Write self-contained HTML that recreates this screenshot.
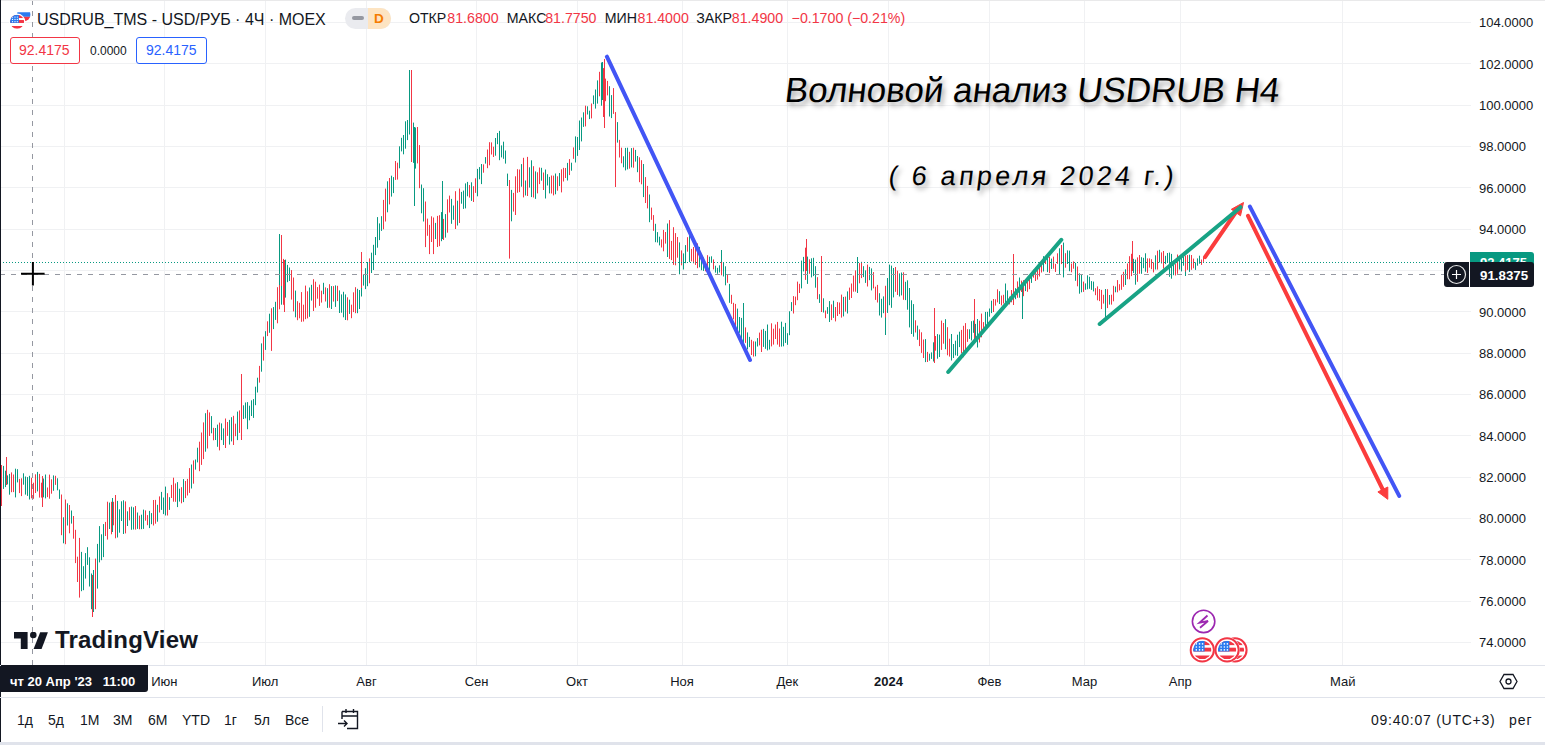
<!DOCTYPE html>
<html><head><meta charset="utf-8">
<style>
html,body{margin:0;padding:0;}
body{width:1545px;height:745px;overflow:hidden;background:#fff;position:relative;font-family:"Liberation Sans",sans-serif;color:#131722;}
.abs{position:absolute;}
svg{position:absolute;left:0;top:0;}
.pl{position:absolute;left:1479px;font-size:13px;line-height:16px;color:#131722;}
.ml{position:absolute;top:674px;width:60px;text-align:center;font-size:13px;line-height:16px;color:#131722;}
.tb{position:absolute;top:711px;font-size:14px;line-height:18px;color:#131722;}
</style></head><body>
<svg width="1545" height="745" viewBox="0 0 1545 745">
<line x1="0" y1="22.5" x2="1471" y2="22.5" stroke="#f0f1f3" stroke-width="1"/>
<line x1="0" y1="63.5" x2="1471" y2="63.5" stroke="#f0f1f3" stroke-width="1"/>
<line x1="0" y1="105.5" x2="1471" y2="105.5" stroke="#f0f1f3" stroke-width="1"/>
<line x1="0" y1="146.5" x2="1471" y2="146.5" stroke="#f0f1f3" stroke-width="1"/>
<line x1="0" y1="187.5" x2="1471" y2="187.5" stroke="#f0f1f3" stroke-width="1"/>
<line x1="0" y1="229.5" x2="1471" y2="229.5" stroke="#f0f1f3" stroke-width="1"/>
<line x1="0" y1="270.5" x2="1471" y2="270.5" stroke="#f0f1f3" stroke-width="1"/>
<line x1="0" y1="311.5" x2="1471" y2="311.5" stroke="#f0f1f3" stroke-width="1"/>
<line x1="0" y1="353.5" x2="1471" y2="353.5" stroke="#f0f1f3" stroke-width="1"/>
<line x1="0" y1="394.5" x2="1471" y2="394.5" stroke="#f0f1f3" stroke-width="1"/>
<line x1="0" y1="435.5" x2="1471" y2="435.5" stroke="#f0f1f3" stroke-width="1"/>
<line x1="0" y1="477.5" x2="1471" y2="477.5" stroke="#f0f1f3" stroke-width="1"/>
<line x1="0" y1="518.5" x2="1471" y2="518.5" stroke="#f0f1f3" stroke-width="1"/>
<line x1="0" y1="559.5" x2="1471" y2="559.5" stroke="#f0f1f3" stroke-width="1"/>
<line x1="0" y1="601.5" x2="1471" y2="601.5" stroke="#f0f1f3" stroke-width="1"/>
<line x1="0" y1="642.5" x2="1471" y2="642.5" stroke="#f0f1f3" stroke-width="1"/>
<line x1="64.5" y1="0" x2="64.5" y2="665" stroke="#f0f1f3" stroke-width="1"/>
<line x1="164.5" y1="0" x2="164.5" y2="665" stroke="#f0f1f3" stroke-width="1"/>
<line x1="265.5" y1="0" x2="265.5" y2="665" stroke="#f0f1f3" stroke-width="1"/>
<line x1="366.5" y1="0" x2="366.5" y2="665" stroke="#f0f1f3" stroke-width="1"/>
<line x1="476.5" y1="0" x2="476.5" y2="665" stroke="#f0f1f3" stroke-width="1"/>
<line x1="577.5" y1="0" x2="577.5" y2="665" stroke="#f0f1f3" stroke-width="1"/>
<line x1="682.5" y1="0" x2="682.5" y2="665" stroke="#f0f1f3" stroke-width="1"/>
<line x1="787.5" y1="0" x2="787.5" y2="665" stroke="#f0f1f3" stroke-width="1"/>
<line x1="888.5" y1="0" x2="888.5" y2="665" stroke="#f0f1f3" stroke-width="1"/>
<line x1="989.5" y1="0" x2="989.5" y2="665" stroke="#f0f1f3" stroke-width="1"/>
<line x1="1084.5" y1="0" x2="1084.5" y2="665" stroke="#f0f1f3" stroke-width="1"/>
<line x1="1180.5" y1="0" x2="1180.5" y2="665" stroke="#f0f1f3" stroke-width="1"/>
<line x1="1342.5" y1="0" x2="1342.5" y2="665" stroke="#f0f1f3" stroke-width="1"/>
<path d="M3.5 465.9V488.9M5.5 470.7V487.1M7.5 475.4V484.4M9.5 473.9V494.7M15.5 468.7V497.4M17.5 469.2V482.4M23.5 473.3V484.7M25.5 476.5V494.6M27.5 477.1V495.9M29.5 475.8V499.5M37.5 471.9V491.4M43.5 478.5V497.3M45.5 474.5V498.4M53.5 475.4V490.8M57.5 478.3V490.3M59.5 489.5V498.9M63.5 517.3V543.3M67.5 503.3V525.5M71.5 510.5V523.6M81.5 551.9V591.2M83.5 566.2V590.2M85.5 553.1V578.6M87.5 547.2V564.9M89.5 557.3V586.5M91.5 573.5V609.2M93.5 579.2V604.9M97.5 543.9V588.6M99.5 526.1V562.4M101.5 534.3V560.2M103.5 524.1V557.1M109.5 502.6V529.0M117.5 500.9V537.5M119.5 509.3V532.7M121.5 501.3V521.0M123.5 500.3V534.0M127.5 511.3V526.0M131.5 506.6V529.8M133.5 507.3V529.5M137.5 512.5V528.9M141.5 514.7V529.2M143.5 509.6V528.9M149.5 510.9V528.1M151.5 513.1V524.2M157.5 504.8V521.7M161.5 491.9V509.9M163.5 497.5V514.1M165.5 486.6V515.5M169.5 497.2V509.9M177.5 482.1V507.1M179.5 488.7V501.6M183.5 479.1V502.1M191.5 464.5V488.5M195.5 459.5V469.6M197.5 447.7V462.4M205.5 413.2V451.7M211.5 416.1V433.3M215.5 428.0V440.0M217.5 424.6V446.8M221.5 423.4V440.1M223.5 428.4V445.0M229.5 419.9V444.6M231.5 417.2V441.4M237.5 411.6V440.1M243.5 405.3V419.0M245.5 402.5V418.4M247.5 402.1V429.2M249.5 405.7V420.3M251.5 400.3V416.0M253.5 399.1V417.9M255.5 386.7V405.2M257.5 377.7V392.5M261.5 343.4V371.7M265.5 331.2V349.9M269.5 313.7V332.8M273.5 307.1V329.1M275.5 301.8V319.9M281.5 270.5V304.7M285.5 259.6V297.6M287.5 264.9V282.2M289.5 267.5V281.0M295.5 290.6V317.3M309.5 287.5V316.8M311.5 284.8V300.6M323.5 282.8V294.2M327.5 288.2V307.9M331.5 286.1V309.0M335.5 285.4V306.9M339.5 290.4V313.0M341.5 294.4V312.7M343.5 291.8V317.3M345.5 294.4V320.0M349.5 299.7V313.9M357.5 288.8V313.2M359.5 290.0V309.0M361.5 278.5V296.5M363.5 274.5V285.6M365.5 268.2V289.1M367.5 262.0V286.2M371.5 252.7V273.0M373.5 244.8V270.0M375.5 237.0V255.1M377.5 217.1V247.7M379.5 223.4V240.1M381.5 216.2V230.9M387.5 181.3V212.3M391.5 175.7V196.6M393.5 177.1V193.1M399.5 146.3V168.3M401.5 137.8V151.4M403.5 135.0V154.3M405.5 121.3V148.7M407.5 120.0V140.1M409.5 111.0V134.5M413.5 122.6V162.9M415.5 127.5V168.6M421.5 184.5V213.3M423.5 188.2V221.5M435.5 222.9V239.0M441.5 212.1V241.2M445.5 214.1V237.6M451.5 198.9V223.8M453.5 205.5V219.8M457.5 200.7V225.5M461.5 191.9V203.7M463.5 190.6V208.9M465.5 183.4V208.4M467.5 181.9V196.3M471.5 182.3V200.9M477.5 168.9V196.3M479.5 167.1V179.3M481.5 164.0V184.1M485.5 157.1V163.6M495.5 138.0V155.7M497.5 133.0V144.2M499.5 130.9V160.2M501.5 145.4V157.4M503.5 141.7V158.8M505.5 150.5V163.6M507.5 173.6V186.0M509.5 197.6V208.0M511.5 189.9V221.3M521.5 164.1V186.7M525.5 180.5V195.5M529.5 167.3V187.6M531.5 160.3V197.1M535.5 171.4V198.9M541.5 167.8V180.7M545.5 169.5V198.5M547.5 174.2V185.5M549.5 176.9V193.4M555.5 173.5V194.3M559.5 173.0V186.1M567.5 162.9V180.5M571.5 162.7V170.7M575.5 136.4V162.5M577.5 137.0V155.9M579.5 120.5V150.0M581.5 117.5V141.4M583.5 112.3V126.9M587.5 106.3V114.5M589.5 110.7V119.1M593.5 95.4V104.2M595.5 89.5V108.6M597.5 80.4V103.6M601.5 62.5V105.7M609.5 86.2V116.5M611.5 95.1V118.1M617.5 122.1V142.6M623.5 156.3V167.3M625.5 147.9V170.4M627.5 147.7V169.4M631.5 148.1V167.4M635.5 149.9V161.6M637.5 156.0V172.2M643.5 164.0V197.1M649.5 194.5V222.2M655.5 223.8V242.2M657.5 232.1V242.5M659.5 236.7V245.4M667.5 223.5V257.0M679.5 242.4V274.3M683.5 253.4V269.5M685.5 245.1V263.2M689.5 233.3V262.1M699.5 246.9V267.3M701.5 254.2V270.2M703.5 257.6V270.9M709.5 256.7V270.7M711.5 256.3V262.5M715.5 265.7V272.6M717.5 267.8V273.8M719.5 265.3V272.5M723.5 262.2V276.5M725.5 266.3V285.3M729.5 283.9V302.8M737.5 308.6V334.4M739.5 317.0V332.8M741.5 317.9V338.4M743.5 322.6V344.2M747.5 332.4V349.4M749.5 336.9V347.1M755.5 341.5V356.3M757.5 338.1V346.5M763.5 328.9V346.9M765.5 330.9V348.8M767.5 324.5V350.4M769.5 339.8V349.5M781.5 321.7V346.6M783.5 326.8V346.3M785.5 322.9V342.9M787.5 333.2V344.8M789.5 311.3V335.2M791.5 302.1V311.0M801.5 260.6V288.4M803.5 256.9V271.4M807.5 256.6V283.9M811.5 258.3V277.4M813.5 257.8V276.1M815.5 266.2V287.7M819.5 294.2V302.9M821.5 289.7V308.3M823.5 298.3V312.5M827.5 307.1V313.8M829.5 301.1V322.0M833.5 300.7V317.9M843.5 296.9V316.4M847.5 291.4V313.5M857.5 266.0V280.5M863.5 266.2V277.1M865.5 270.4V282.9M869.5 266.9V280.2M871.5 268.4V290.4M879.5 293.2V315.5M881.5 298.8V317.6M883.5 296.4V313.2M887.5 278.0V312.9M889.5 264.6V305.2M891.5 265.6V307.8M893.5 268.0V297.4M899.5 273.4V296.5M901.5 272.5V295.4M905.5 281.8V300.1M907.5 280.3V309.7M909.5 288.0V327.4M911.5 300.3V334.0M913.5 304.1V336.7M917.5 325.6V339.8M925.5 339.1V362.1M929.5 353.7V360.7M931.5 352.4V358.9M933.5 342.3V361.5M937.5 334.1V358.7M939.5 334.6V357.0M945.5 319.2V349.2M951.5 334.0V360.5M953.5 344.0V358.0M955.5 340.7V355.4M957.5 334.7V355.9M959.5 331.7V347.1M969.5 329.3V338.9M971.5 321.2V340.4M973.5 320.6V332.8M975.5 323.9V341.3M977.5 319.0V347.5M985.5 311.9V326.8M987.5 311.8V324.8M989.5 308.5V316.7M991.5 300.7V313.1M999.5 291.2V304.0M1005.5 283.5V304.9M1007.5 290.4V304.9M1015.5 288.2V299.2M1019.5 277.5V297.7M1025.5 280.3V291.1M1031.5 276.6V282.9M1043.5 256.2V271.5M1047.5 257.7V272.1M1051.5 258.6V269.0M1059.5 248.3V275.0M1063.5 242.6V277.4M1067.5 250.4V264.0M1069.5 250.6V271.2M1075.5 262.9V280.8M1079.5 273.3V293.7M1081.5 274.1V292.3M1085.5 283.4V289.8M1087.5 275.3V289.3M1089.5 276.8V288.8M1091.5 281.1V289.9M1093.5 281.6V291.4M1105.5 290.1V308.7M1109.5 295.0V304.6M1115.5 286.5V292.3M1125.5 269.3V285.0M1133.5 258.8V273.1M1135.5 259.6V284.7M1141.5 257.2V273.8M1143.5 257.8V268.2M1145.5 253.3V271.7M1155.5 255.3V269.5M1159.5 249.8V262.4M1165.5 255.8V264.1M1167.5 253.0V262.7M1169.5 252.6V276.8M1171.5 253.9V278.7M1173.5 260.5V275.2M1179.5 258.2V269.5M1181.5 254.8V271.4M1183.5 257.0V265.7M1189.5 254.7V271.9M1195.5 262.4V269.9M1197.5 258.4V265.7M1199.5 255.7V263.7M93.5 570.0V612.0M112.5 498.0V532.0M279.5 234.0V302.0M409.5 70.0V118.0M414.5 127.0V206.0M442.5 181.0V239.0M602.5 62.0V100.0M721.5 250.0V268.0M743.5 303.0V331.0M857.5 257.0V293.0M885.5 300.0V335.0M1022.5 285.0V319.0M1105.5 289.0V317.0M1185.5 262.0V276.0" stroke="#089981" stroke-width="1" fill="none"/>
<path d="M1.5 467.2V489.2M11.5 472.4V492.2M13.5 474.5V492.1M19.5 478.9V493.1M21.5 478.3V496.1M31.5 477.8V498.3M33.5 482.7V498.8M35.5 474.3V493.0M39.5 473.9V497.6M41.5 482.7V497.6M47.5 487.5V497.1M49.5 474.6V498.7M51.5 479.3V493.7M55.5 475.8V484.9M61.5 494.5V535.2M65.5 499.5V544.2M69.5 505.0V533.3M73.5 516.0V538.7M75.5 529.8V563.1M77.5 556.7V582.0M79.5 537.9V597.6M95.5 558.6V609.2M105.5 521.9V536.0M107.5 501.7V539.6M111.5 501.8V534.3M113.5 501.8V525.3M115.5 495.0V538.3M125.5 501.4V533.4M129.5 507.2V520.4M135.5 506.0V529.6M139.5 515.6V529.3M145.5 510.4V520.7M147.5 515.1V525.2M153.5 500.0V525.5M155.5 499.9V523.7M159.5 496.4V512.5M167.5 493.2V515.5M171.5 484.9V498.0M173.5 477.7V501.7M175.5 483.4V501.8M181.5 487.2V503.3M185.5 481.0V498.1M187.5 478.9V495.5M189.5 468.1V492.9M193.5 460.4V483.7M199.5 441.7V471.2M201.5 432.5V464.9M203.5 422.4V459.1M207.5 409.8V448.5M209.5 412.4V436.0M213.5 427.8V440.3M219.5 422.6V450.4M225.5 418.5V448.0M227.5 422.0V435.9M233.5 415.8V445.0M235.5 423.7V436.2M239.5 410.4V432.9M241.5 408.5V422.4M259.5 365.9V382.6M263.5 336.6V360.6M267.5 321.3V336.1M271.5 308.3V350.9M277.5 287.2V323.3M279.5 285.0V309.3M283.5 258.9V304.8M291.5 270.1V299.6M293.5 277.5V311.4M297.5 301.2V320.2M299.5 302.8V318.3M301.5 292.1V321.8M303.5 304.7V321.5M305.5 285.6V319.2M307.5 291.3V318.4M313.5 279.2V311.0M315.5 281.7V307.7M317.5 287.1V298.7M319.5 284.6V305.9M321.5 290.7V302.6M325.5 287.4V301.5M329.5 284.2V307.7M333.5 286.1V301.6M337.5 285.8V301.1M347.5 297.3V320.3M351.5 304.7V318.2M353.5 292.3V312.1M355.5 287.2V313.2M369.5 258.4V283.3M383.5 199.9V229.3M385.5 188.6V221.5M389.5 178.0V204.4M395.5 161.0V179.9M397.5 162.7V179.6M411.5 107.4V151.5M417.5 127.0V163.4M419.5 145.1V188.2M425.5 201.5V247.1M427.5 218.6V235.8M429.5 224.9V254.1M431.5 216.3V242.0M433.5 217.5V254.1M437.5 215.9V247.0M439.5 215.2V246.2M443.5 218.9V240.0M447.5 199.3V232.7M449.5 195.6V212.5M455.5 191.2V229.0M459.5 188.5V223.0M469.5 185.0V197.6M473.5 186.2V202.0M475.5 178.3V192.9M483.5 164.4V172.7M487.5 149.5V168.2M489.5 142.2V165.3M491.5 142.4V154.5M493.5 146.7V157.0M513.5 192.9V211.6M515.5 176.3V215.0M517.5 169.2V192.8M519.5 169.5V192.1M523.5 157.8V197.4M527.5 156.9V196.0M533.5 166.2V197.5M537.5 172.3V193.4M539.5 167.5V184.1M543.5 172.5V190.0M551.5 175.5V193.5M553.5 175.6V195.4M557.5 176.3V190.7M561.5 169.3V192.4M563.5 167.8V181.5M565.5 168.0V178.0M569.5 159.1V175.1M573.5 147.4V158.8M585.5 105.7V126.4M591.5 103.5V118.4M599.5 71.8V96.3M603.5 68.1V117.0M605.5 78.6V101.2M607.5 80.9V95.4M613.5 88.1V113.9M615.5 112.1V126.2M619.5 139.9V157.5M621.5 147.7V163.3M629.5 151.8V168.7M633.5 147.7V167.7M639.5 157.3V182.2M641.5 160.2V184.3M645.5 177.1V203.0M647.5 185.9V208.4M651.5 207.6V219.8M653.5 215.1V230.8M661.5 239.4V247.5M663.5 229.9V251.3M665.5 232.0V243.6M669.5 220.1V258.9M671.5 240.9V260.1M673.5 227.2V264.9M675.5 233.1V265.3M677.5 237.0V257.7M681.5 250.4V265.3M687.5 237.2V251.7M691.5 248.9V261.3M693.5 247.0V263.3M695.5 245.6V264.9M697.5 243.4V268.2M705.5 263.7V271.3M707.5 255.2V269.7M713.5 259.4V269.4M721.5 262.1V275.3M727.5 274.1V282.8M731.5 294.8V303.9M733.5 302.8V319.3M735.5 303.9V332.0M745.5 327.4V342.9M751.5 339.8V355.0M753.5 341.3V356.6M759.5 332.6V345.4M761.5 329.7V352.0M771.5 323.3V346.4M773.5 328.7V344.6M775.5 324.5V339.0M777.5 321.9V344.6M779.5 328.5V346.8M793.5 296.1V313.5M795.5 296.6V305.2M797.5 281.6V300.2M799.5 283.8V293.0M805.5 247.7V279.9M809.5 259.3V273.8M817.5 277.2V299.2M825.5 310.5V318.2M831.5 304.4V320.1M835.5 307.0V321.4M837.5 302.1V316.0M839.5 302.5V314.1M841.5 294.6V317.6M845.5 296.6V311.6M849.5 287.6V299.9M851.5 283.5V298.0M853.5 275.6V291.7M855.5 270.4V291.7M859.5 263.1V283.3M861.5 261.8V278.1M867.5 264.6V286.5M873.5 272.1V288.4M875.5 286.7V299.9M877.5 284.9V302.5M885.5 285.8V317.6M895.5 267.0V291.8M897.5 270.7V295.0M903.5 272.3V299.8M915.5 320.3V332.5M919.5 329.4V346.1M921.5 332.3V352.9M923.5 339.5V358.0M927.5 351.9V362.0M935.5 336.0V350.7M941.5 320.6V349.9M943.5 323.0V343.7M947.5 327.2V355.3M949.5 338.7V356.6M961.5 329.9V353.2M963.5 325.8V357.2M965.5 323.1V350.5M967.5 329.2V341.9M979.5 320.7V342.5M981.5 313.6V337.3M983.5 322.1V332.5M993.5 299.0V312.0M995.5 299.3V305.6M997.5 289.3V302.4M1001.5 295.5V305.4M1003.5 294.8V303.5M1009.5 296.6V304.4M1011.5 290.0V302.3M1013.5 284.6V299.2M1017.5 281.4V297.8M1021.5 280.6V292.0M1023.5 280.2V296.2M1027.5 277.9V291.8M1029.5 275.2V289.2M1033.5 269.7V277.7M1035.5 267.7V281.0M1037.5 266.6V279.6M1039.5 262.3V276.5M1041.5 263.8V272.5M1045.5 257.3V264.1M1049.5 256.9V273.1M1053.5 256.6V268.7M1055.5 263.9V272.0M1057.5 253.3V263.8M1061.5 245.0V264.1M1065.5 253.2V267.7M1071.5 263.6V272.3M1073.5 261.4V268.7M1077.5 266.5V286.3M1083.5 281.6V291.9M1095.5 288.2V295.2M1097.5 286.4V300.3M1099.5 289.0V301.1M1101.5 289.9V309.1M1103.5 294.8V303.6M1107.5 289.2V308.1M1111.5 294.7V304.6M1113.5 285.8V301.3M1117.5 280.1V292.3M1119.5 284.2V290.5M1121.5 274.7V289.8M1123.5 271.8V286.8M1127.5 263.5V279.2M1129.5 256.2V279.3M1131.5 253.8V276.1M1137.5 257.4V281.8M1139.5 255.0V273.8M1147.5 258.4V272.9M1149.5 258.4V267.6M1151.5 259.2V269.2M1153.5 262.4V272.4M1157.5 250.7V269.6M1161.5 252.4V263.5M1163.5 251.0V268.6M1175.5 264.1V275.5M1177.5 254.5V273.8M1185.5 255.5V271.5M1187.5 255.1V269.9M1191.5 255.0V269.8M1193.5 258.6V268.3M1201.5 259.5V264.9M1203.5 256.7V261.9M1.5 465.0V506.0M6.5 457.0V485.0M42.5 476.0V507.0M92.5 575.0V617.0M241.5 374.0V440.0M281.5 235.0V286.0M284.5 260.0V312.0M361.5 252.0V288.0M411.5 70.0V162.0M509.5 180.0V258.6M604.5 59.0V128.0M615.5 126.0V187.0M806.5 239.0V271.0M821.5 256.0V312.0M934.5 308.0V363.0M974.5 299.0V342.0M1013.5 254.0V305.0M1132.5 241.0V271.0" stroke="#f23645" stroke-width="1" fill="none"/>
<line x1="0" y1="262.5" x2="1444" y2="262.5" stroke="#089981" stroke-width="1" stroke-dasharray="1 2"/>
<line x1="0" y1="274.5" x2="1444" y2="274.5" stroke="#9598a1" stroke-width="1" stroke-dasharray="5 6"/>
<line x1="32.5" y1="0" x2="32.5" y2="665" stroke="#9598a1" stroke-width="1" stroke-dasharray="5 6"/>
<line x1="606.9" y1="56.7" x2="750" y2="360" stroke="#4255f5" stroke-width="4" stroke-linecap="round"/>
<line x1="948.2" y1="372" x2="1061.3" y2="239.8" stroke="#18a385" stroke-width="4" stroke-linecap="round"/>
<line x1="1205" y1="257.1" x2="1238" y2="209" stroke="#fb3c3c" stroke-width="4" stroke-linecap="round"/>
<polygon points="1243.5,202.5 1231.3,209.3 1240.5,215.8" fill="#fb3c3c" stroke="#fb3c3c" stroke-width="1" stroke-linejoin="round"/>
<line x1="1099.7" y1="324" x2="1240.5" y2="207.2" stroke="#18a385" stroke-width="4" stroke-linecap="round"/>
<line x1="1249.9" y1="206.6" x2="1399.2" y2="495.9" stroke="#4255f5" stroke-width="4" stroke-linecap="round"/>
<line x1="1248" y1="215.8" x2="1383" y2="490" stroke="#fb3c3c" stroke-width="4" stroke-linecap="round"/>
<polygon points="1387.8,499.3 1377.9,491.9 1387.8,487" fill="#fb3c3c" stroke="#fb3c3c" stroke-width="1" stroke-linejoin="round"/>
<path d="M21 273.8H44.6M32.9 262V285.6" stroke="#000" stroke-width="2"/>
</svg>
<div class="abs" style="left:0;top:0;width:1545px;height:1px;background:#e9e9ea"></div>
<div class="abs" style="left:0;top:0;width:1px;height:742px;background:#131722"></div>
<!-- legend -->
<div class="abs" style="left:37px;top:9.7px;font-size:16px;line-height:20px;white-space:nowrap">USDRUB_TMS - USD/РУБ · 4Ч · MOEX</div>
<div class="abs" style="left:345px;top:8px;width:46px;height:21px;border-radius:11px;overflow:hidden;background:#eaebef">
  <div class="abs" style="left:7px;top:8px;width:12px;height:4px;border-radius:2px;background:#9598a1"></div>
  <div class="abs" style="left:23px;top:0;width:23px;height:21px;background:#fde4c2"></div>
  <div class="abs" style="left:29px;top:1.5px;font-size:13.5px;line-height:17px;color:#f57c00;font-weight:bold">D</div>
</div>
<div class="abs" style="left:408.9px;top:9px;font-size:14.2px;line-height:18px;white-space:nowrap;color:#131722">ОТКР</div><div class="abs" style="left:447.3px;top:9px;font-size:14.2px;line-height:18px;white-space:nowrap;color:#f23645">81.6800</div><div class="abs" style="left:506.8px;top:9px;font-size:14.2px;line-height:18px;white-space:nowrap;color:#131722">МАКС</div><div class="abs" style="left:545.2px;top:9px;font-size:14.2px;line-height:18px;white-space:nowrap;color:#f23645">81.7750</div><div class="abs" style="left:604.7px;top:9px;font-size:14.2px;line-height:18px;white-space:nowrap;color:#131722">МИН</div><div class="abs" style="left:637.5px;top:9px;font-size:14.2px;line-height:18px;white-space:nowrap;color:#f23645">81.4000</div><div class="abs" style="left:696.2px;top:9px;font-size:14.2px;line-height:18px;white-space:nowrap;color:#131722">ЗАКР</div><div class="abs" style="left:731.8px;top:9px;font-size:14.2px;line-height:18px;white-space:nowrap;color:#f23645">81.4900</div><div class="abs" style="left:791.6px;top:9px;font-size:14.2px;line-height:18px;white-space:nowrap;color:#f23645">−0.1700 (−0.21%)</div>
<div class="abs" style="left:10px;top:37px;width:68px;height:25px;border:1px solid #f23645;border-radius:3px;background:#fff;"></div>
<div class="abs" style="left:19px;top:42px;font-size:14px;line-height:16px;color:#f23645">92.4175</div>
<div class="abs" style="left:90px;top:43px;font-size:12px;line-height:16px;color:#131722">0.0000</div>
<div class="abs" style="left:136px;top:37px;width:69px;height:25px;border:1px solid #2962ff;border-radius:3px;background:#fff;"></div>
<div class="abs" style="left:146px;top:42px;font-size:14px;line-height:16px;color:#2962ff">92.4175</div>
<!-- title annotation -->
<div class="abs" style="left:783px;top:71.5px;-webkit-text-stroke:0px #000;transform:skewX(-7deg);transform-origin:0 100%;font-size:35px;line-height:36px;white-space:nowrap;color:#000;letter-spacing:0px;text-shadow:3px 4px 5px rgba(0,0,0,0.35)">Волновой анализ USDRUB H4</div>
<div class="abs" style="left:887px;top:160px;-webkit-text-stroke:0px #000;transform:skewX(-7deg);transform-origin:0 100%;font-size:27px;line-height:32px;white-space:nowrap;color:#000;letter-spacing:3.25px;text-shadow:3px 4px 5px rgba(0,0,0,0.35)">( 6 апреля 2024 г.)</div>
<!-- price axis -->
<div class="pl" style="top:15.3px">104.0000</div><div class="pl" style="top:56.6px">102.0000</div><div class="pl" style="top:98.0px">100.0000</div><div class="pl" style="top:139.3px">98.0000</div><div class="pl" style="top:180.6px">96.0000</div><div class="pl" style="top:222.0px">94.0000</div><div class="pl" style="top:304.6px">90.0000</div><div class="pl" style="top:346.0px">88.0000</div><div class="pl" style="top:387.3px">86.0000</div><div class="pl" style="top:428.6px">84.0000</div><div class="pl" style="top:470.0px">82.0000</div><div class="pl" style="top:511.3px">80.0000</div><div class="pl" style="top:552.6px">78.0000</div><div class="pl" style="top:594.0px">76.0000</div><div class="pl" style="top:635.3px">74.0000</div>
<div class="abs" style="left:1470px;top:252px;width:64px;height:20px;background:#089981;border-radius:0 3px 0 0;"></div>
<div class="abs" style="left:1480px;top:255px;font-size:13px;line-height:16px;color:#fff;font-weight:bold">92.4175</div>
<div class="abs" style="left:1444px;top:262px;width:25px;height:25px;background:#131722;border-radius:3px 0 0 3px;"></div>
<svg class="abs" style="left:1444px;top:262px" width="25" height="25"><circle cx="12.5" cy="12.5" r="9" stroke="#e8e8e8" stroke-width="1.2" fill="none"/><path d="M8 12.5H17M12.5 8V17" stroke="#fff" stroke-width="1.2"/></svg>
<div class="abs" style="left:1470px;top:262px;width:64px;height:25px;background:#131722;border-radius:0 3px 3px 0;"></div>
<div class="abs" style="left:1480px;top:266.5px;font-size:13.3px;line-height:17px;color:#fff;font-weight:bold">91.8375</div>
<!-- time axis -->
<div class="abs" style="left:0;top:665px;width:1545px;height:1px;background:#e0e3eb"></div>
<div class="abs" style="left:0;top:697px;width:1545px;height:1px;background:#e0e3eb"></div>
<div class="ml" style="left:134.4px">Июн</div><div class="ml" style="left:235.2px">Июл</div><div class="ml" style="left:336.5px">Авг</div><div class="ml" style="left:446.6px">Сен</div><div class="ml" style="left:547.0px">Окт</div><div class="ml" style="left:652.0px">Ноя</div><div class="ml" style="left:757.3px">Дек</div><div class="ml" style="left:858.5px"><b>2024</b></div><div class="ml" style="left:959.5px">Фев</div><div class="ml" style="left:1054.4px">Мар</div><div class="ml" style="left:1150.3px">Апр</div><div class="ml" style="left:1312.7px">Май</div>
<div class="abs" style="left:1px;top:665px;width:147px;height:27px;background:#131722;border-radius:0 0 3px 0;"></div>
<div class="abs" style="left:10px;top:674px;font-size:13px;line-height:16px;color:#fff;font-weight:bold;white-space:nowrap">чт 20 Апр '23&nbsp;&nbsp;&nbsp;11:00</div>
<svg class="abs" style="left:1499px;top:673px" width="19" height="17"><path d="M5 1.5H14L18 8.5L14 15.5H5L1 8.5Z" stroke="#131722" stroke-width="1.3" fill="none"/><circle cx="9.5" cy="8.5" r="2.5" stroke="#131722" stroke-width="1.3" fill="none"/></svg>
<!-- logo -->
<svg class="abs" style="left:14px;top:631.8px" width="36" height="19" viewBox="0 0 36 19"><path d="M0 0H13.6V17H6.8V6.6H0Z" fill="#131722"/><circle cx="19.3" cy="3" r="3.3" fill="#131722"/><path d="M26.2 0.2H33.9L27.6 17H19.6Z" fill="#131722"/></svg>
<div class="abs" style="left:55px;top:626px;font-size:24px;line-height:28px;font-weight:bold;color:#131722;letter-spacing:0.2px">TradingView</div>
<!-- events -->
<svg class="abs" style="left:0;top:0" width="1545" height="745">
<defs>
<clipPath id="cc"><circle cx="0" cy="0" r="10"/></clipPath>
</defs>
<g transform="translate(23.8 14.5) scale(0.68)"><g clip-path="url(#cc)"><rect x="-10" y="-10" width="20" height="6.7" fill="#fff"/><rect x="-10" y="-3.3" width="20" height="6.7" fill="#2a7bf0"/><rect x="-10" y="3.4" width="20" height="6.7" fill="#f23645"/></g></g>
<circle cx="17.1" cy="21.7" r="8.2" fill="#fff"/>
<g transform="translate(17.1 21.7) scale(0.705)"><g clip-path="url(#cc)"><rect x="-10" y="-10" width="20" height="20" fill="#fff"/><rect x="-10" y="-9.6" width="20" height="4.4" fill="#f23645"/><rect x="-10" y="-2.4" width="20" height="4.2" fill="#f23645"/><rect x="-10" y="6.1" width="20" height="4" fill="#f23645"/><rect x="-10" y="-10" width="12.5" height="11.7" fill="#2a7bf0"/><g fill="#fff"><circle cx="-6.5" cy="-6.5" r="0.9"/><circle cx="-6.5" cy="-3.2" r="0.9"/><circle cx="-6.5" cy="0" r="0.9"/><circle cx="-3" cy="-6.5" r="0.9"/><circle cx="-3" cy="-3.2" r="0.9"/><circle cx="-3" cy="0" r="0.9"/><circle cx="0.3" cy="-6.5" r="0.9"/><circle cx="0.3" cy="-3.2" r="0.9"/><circle cx="0.3" cy="0" r="0.9"/></g></g></g>
<circle cx="1203.6" cy="621.4" r="11.2" stroke="#9c27b0" stroke-width="1.6" fill="#fff"/>
<path d="M1207.5 615.5L1199.5 622.8L1208 621L1200 627.8" stroke="#9c27b0" stroke-width="1.8" fill="none" stroke-linejoin="miter"/>
<circle cx="1235" cy="649.9" r="11.6" stroke="#f23645" stroke-width="2" fill="#fff"/>
<g transform="translate(1235 649.9) scale(0.92)"><g clip-path="url(#cc)"><rect x="-10" y="-10" width="20" height="20" fill="#fff"/><rect x="-10" y="-9.6" width="20" height="4.4" fill="#f23645"/><rect x="-10" y="-2.4" width="20" height="4.2" fill="#f23645"/><rect x="-10" y="6.1" width="20" height="4" fill="#f23645"/><rect x="-10" y="-10" width="12.5" height="11.7" fill="#2a7bf0"/><g fill="#fff"><circle cx="-6.5" cy="-6.5" r="0.9"/><circle cx="-6.5" cy="-3.2" r="0.9"/><circle cx="-6.5" cy="0" r="0.9"/><circle cx="-3" cy="-6.5" r="0.9"/><circle cx="-3" cy="-3.2" r="0.9"/><circle cx="-3" cy="0" r="0.9"/><circle cx="0.3" cy="-6.5" r="0.9"/><circle cx="0.3" cy="-3.2" r="0.9"/><circle cx="0.3" cy="0" r="0.9"/></g></g></g>
<circle cx="1227.1" cy="649.9" r="12.8" fill="#fff"/>
<circle cx="1227.1" cy="649.9" r="11.6" stroke="#f23645" stroke-width="2" fill="#fff"/>
<g transform="translate(1227.1 649.9) scale(0.92)"><g clip-path="url(#cc)"><rect x="-10" y="-10" width="20" height="20" fill="#fff"/><rect x="-10" y="-9.6" width="20" height="4.4" fill="#f23645"/><rect x="-10" y="-2.4" width="20" height="4.2" fill="#f23645"/><rect x="-10" y="6.1" width="20" height="4" fill="#f23645"/><rect x="-10" y="-10" width="12.5" height="11.7" fill="#2a7bf0"/><g fill="#fff"><circle cx="-6.5" cy="-6.5" r="0.9"/><circle cx="-6.5" cy="-3.2" r="0.9"/><circle cx="-6.5" cy="0" r="0.9"/><circle cx="-3" cy="-6.5" r="0.9"/><circle cx="-3" cy="-3.2" r="0.9"/><circle cx="-3" cy="0" r="0.9"/><circle cx="0.3" cy="-6.5" r="0.9"/><circle cx="0.3" cy="-3.2" r="0.9"/><circle cx="0.3" cy="0" r="0.9"/></g></g></g>
<circle cx="1202.3" cy="649.9" r="11.6" stroke="#f23645" stroke-width="2" fill="#fff"/>
<g transform="translate(1202.3 649.9) scale(0.92)"><g clip-path="url(#cc)"><rect x="-10" y="-10" width="20" height="20" fill="#fff"/><rect x="-10" y="-9.6" width="20" height="4.4" fill="#f23645"/><rect x="-10" y="-2.4" width="20" height="4.2" fill="#f23645"/><rect x="-10" y="6.1" width="20" height="4" fill="#f23645"/><rect x="-10" y="-10" width="12.5" height="11.7" fill="#2a7bf0"/><g fill="#fff"><circle cx="-6.5" cy="-6.5" r="0.9"/><circle cx="-6.5" cy="-3.2" r="0.9"/><circle cx="-6.5" cy="0" r="0.9"/><circle cx="-3" cy="-6.5" r="0.9"/><circle cx="-3" cy="-3.2" r="0.9"/><circle cx="-3" cy="0" r="0.9"/><circle cx="0.3" cy="-6.5" r="0.9"/><circle cx="0.3" cy="-3.2" r="0.9"/><circle cx="0.3" cy="0" r="0.9"/></g></g></g>
</svg>
<!-- bottom toolbar -->
<div class="tb" style="left:17px">1д</div>
<div class="tb" style="left:48px">5д</div>
<div class="tb" style="left:80px">1М</div>
<div class="tb" style="left:113px">3М</div>
<div class="tb" style="left:148px">6М</div>
<div class="tb" style="left:182px">YTD</div>
<div class="tb" style="left:224px">1г</div>
<div class="tb" style="left:254px">5л</div>
<div class="tb" style="left:285px">Все</div>
<div class="abs" style="left:322px;top:706px;width:1px;height:26px;background:#e0e3eb"></div>
<svg class="abs" style="left:337px;top:708px" width="24" height="22"><path d="M5 3.5H20.5V20.5H10M5 3.5V11M5 8H20.5M9 1V5M16.5 1V5M1 15.5H10M7 12.5L10 15.5L7 18.5" stroke="#131722" stroke-width="1.4" fill="none"/></svg>
<div class="tb" style="left:1371px;letter-spacing:0.75px">09:40:07 (UTC+3)</div>
<div class="tb" style="left:1509px;letter-spacing:1px">рег</div>
<div class="abs" style="left:0;top:742px;width:1545px;height:3px;background:#e0e3eb"></div>
</body></html>
